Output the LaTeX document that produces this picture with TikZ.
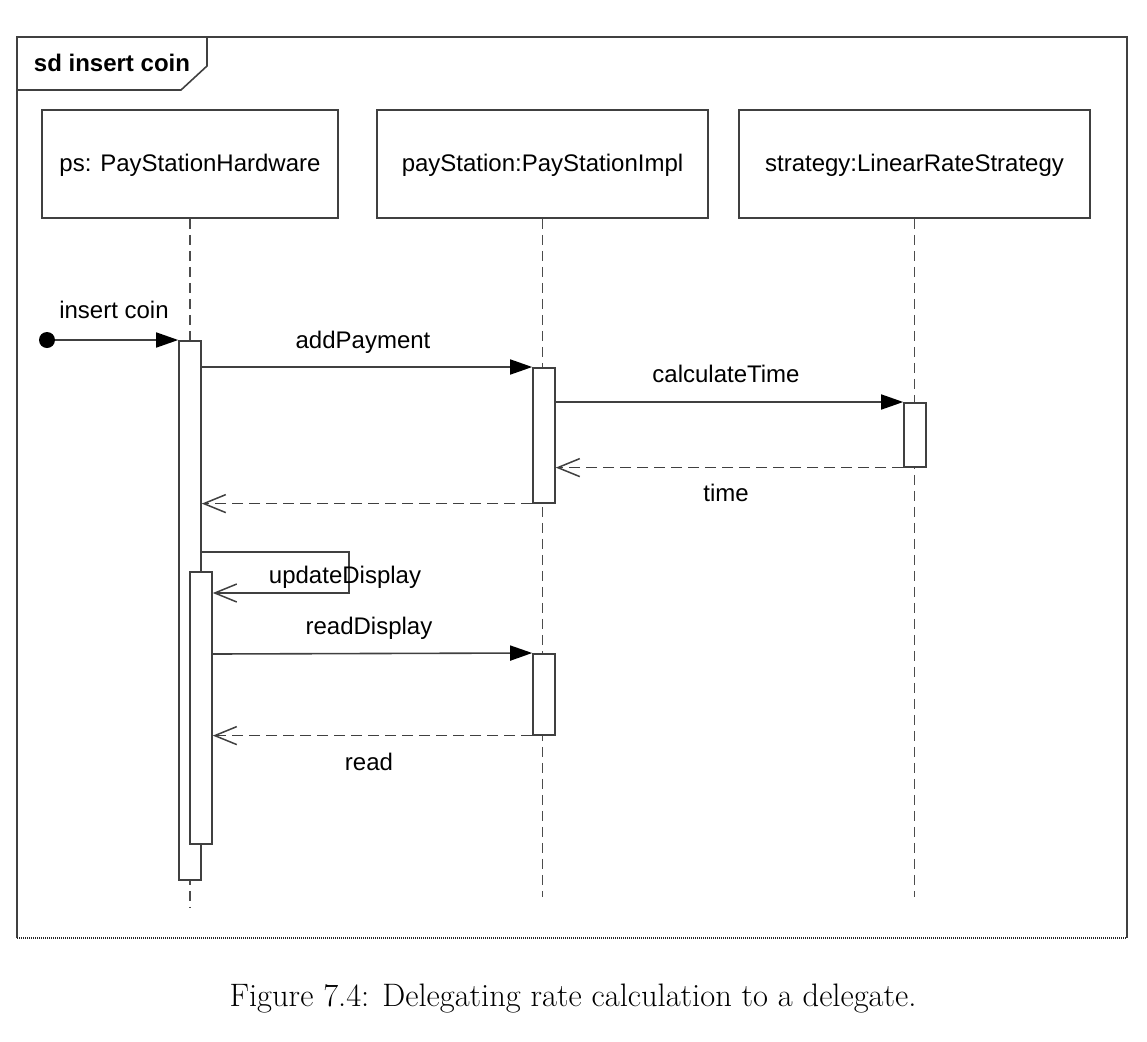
\documentclass[tikz,border=0pt]{standalone}
\usepackage{fontspec}
\newfontfamily\diafont{Liberation Sans}
\usetikzlibrary{arrows.meta}
\begin{document}
\begin{tikzpicture}[x=1pt,y=-1pt,
  ln/.style={draw=black!75,line width=1.6pt},
  lifeline/.style={draw=black!70,line width=1.6pt,dash pattern=on 10pt off 6pt},
  headbox/.style={ln,fill=white,minimum width=#1,minimum height=108pt,inner sep=0pt},
  actbox/.style={ln,fill=white,minimum width=22pt,inner sep=0pt,anchor=north},
  lbl/.style={font=\diafont\fontsize{24}{28}\selectfont,anchor=base,inner sep=0pt},
  syncmsg/.style={ln,-{Triangle[length=22pt,width=15pt,black]}},
  retmsg/.style={ln,dash pattern=on 11pt off 6pt,-{Straight Barb[length=22pt,width=18pt,line width=1.5pt]}},
  selfret/.style={ln,-{Straight Barb[length=22pt,width=18pt,line width=1.5pt]}}
]
\useasboundingbox (0,0) rectangle (1147,1041);
% frame
\draw[ln] (17,938) -- (17,37) -- (1127,37) -- (1127,938);
\draw[black!85,line width=2.2pt,dash pattern=on 1pt off 1pt] (17,938) -- (1127,938);
\draw[ln] (17,90) -- (181,90) -- (207,66) -- (207,37);
\node[lbl,font=\diafont\bfseries\fontsize{24}{28}\selectfont] (title) at (112,71) {sd insert coin};

% lifeline heads
\node[headbox=296pt] (ps) at (190,164) {};
\node[headbox=331pt] (pay) at (542.5,164) {};
\node[headbox=351pt] (strat) at (914.5,164) {};
\node[lbl] (psl) at (190,171) {ps: PayStationHardware};
\node[lbl] (payl) at (542.5,171) {payStation:PayStationImpl};
\node[lbl] (stratl) at (914.5,171) {strategy:LinearRateStrategy};

% lifelines
\coordinate (psend) at (190,908);
\coordinate (payend) at (542.5,897);
\coordinate (stratend) at (914.5,897);
\draw[lifeline] (ps.south) -- (psend);
\draw[lifeline] (pay.south) -- (payend);
\draw[lifeline] (strat.south) -- (stratend);

% activations
\node[actbox,minimum height=539pt] (psA) at (190,340) {};
\node[actbox,minimum height=272pt] (psB) at (201,571) {};
\node[actbox,minimum height=135pt] (payA) at (544,367) {};
\node[actbox,minimum height=64pt] (stratA) at (915,402) {};
\node[actbox,minimum height=81pt] (payB) at (544,653) {};

% found message
\coordinate (start) at (47,340);
\draw[syncmsg] (start) -- (psA.north west);
\fill[black] (start) circle[radius=8pt];
\node[lbl] (l1) at (114,318) {insert coin};

% addPayment
\draw[syncmsg] (psA.east |- 0,367) coordinate (a1) -- (payA.north west);
\node[lbl] (l2) at (363,348) {addPayment};

% calculateTime
\draw[syncmsg] (payA.east |- 0,402) coordinate (a2) -- (stratA.north west);
\node[lbl] (l3) at (726,382) {calculateTime};

% time
\draw[retmsg] (stratA.south west) -- (payA.east |- stratA.south west);
\node[lbl] (l4) at (726,501) {time};

% return to ps
\draw[retmsg] (payA.south west) -- (psA.east |- payA.south west);

% self call
\coordinate (sc1) at (349,552);
\coordinate (sc2) at (349,593);
\draw[selfret] (psA.east |- sc1) -- (sc1) -- (sc2) -- (psB.east |- sc2);
\node[lbl] (l5) at (345,583) {updateDisplay};

% readDisplay
\draw[syncmsg] (psB.east |- 0,654) -- (payB.north west);
\node[lbl] (l6) at (369,634) {readDisplay};

% read
\draw[retmsg] (payB.south west) -- (psB.east |- payB.south west);
\node[lbl] (l7) at (369,770) {read};

% caption
\node[anchor=base,inner sep=0pt,font=\fontsize{32.5}{38}\selectfont] (cap) at (573,1006) {Figure 7.4: Delegating rate calculation to a delegate.};
\end{tikzpicture}
\end{document}
